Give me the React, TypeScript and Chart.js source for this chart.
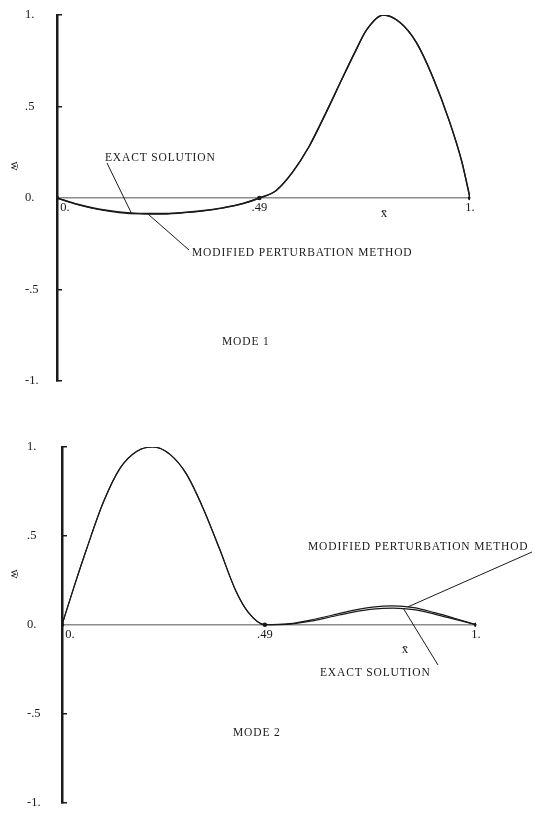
import { useEffect, useRef } from 'react';
import { Chart, registerables } from 'chart.js';

Chart.register(...registerables);

// Axis ticks and labels (typewriter style)
const xTicks = [0, 0.49, 1];
const xTickLabels = ['     0.', '.49', '1.'];
const yTicks = [-1, -0.5, 0, 0.5, 1];
const yTickLabels = ['-1.', '-.5', '0.', '.5', '1.'];

// Nodal points marked on the x axis
const nodeX = [0, 0.49, 1];
const nodeY = [0, 0, 0];

// Mode 1 deflection shape
const mode1X = [0, 0.05, 0.1, 0.15, 0.2, 0.25, 0.3, 0.35, 0.4, 0.45, 0.49, 0.53, 0.57, 0.61, 0.65, 0.69, 0.72, 0.75, 0.79, 0.83, 0.87, 0.91, 0.95, 0.98, 1.0];
const mode1Exact = [0, -0.034, -0.06, -0.076, -0.084, -0.085, -0.08, -0.07, -0.054, -0.03, 0, 0.04, 0.14, 0.28, 0.46, 0.65, 0.79, 0.92, 1.0, 0.96, 0.85, 0.66, 0.42, 0.2, 0];
const mode1Perturb = [0, -0.036, -0.062, -0.079, -0.087, -0.088, -0.082, -0.072, -0.055, -0.031, 0, 0.04, 0.14, 0.28, 0.46, 0.65, 0.79, 0.92, 1.0, 0.96, 0.85, 0.66, 0.42, 0.2, 0];

// Mode 2 deflection shape
const mode2X = [0, 0.03, 0.06, 0.1, 0.14, 0.18, 0.22, 0.26, 0.3, 0.34, 0.38, 0.42, 0.45, 0.49, 0.55, 0.6, 0.65, 0.7, 0.75, 0.8, 0.85, 0.9, 0.95, 1.0];
const mode2Exact = [0, 0.22, 0.43, 0.69, 0.88, 0.975, 1.0, 0.96, 0.85, 0.66, 0.43, 0.19, 0.07, 0, 0.004, 0.02, 0.045, 0.07, 0.088, 0.094, 0.085, 0.06, 0.03, 0];
const mode2Perturb = [0, 0.22, 0.43, 0.69, 0.88, 0.975, 1.0, 0.96, 0.85, 0.66, 0.43, 0.19, 0.07, 0, 0.006, 0.026, 0.052, 0.079, 0.099, 0.106, 0.096, 0.068, 0.035, 0];

const FONT = '"Liberation Serif", "DejaVu Serif", serif';
const INK = '#1a1a1a';

type Note = { text: string; x: number; y: number };
type Leader = { from: [number, number]; to: [number, number] };
type Layout = {
  top: number;
  height: number;
  pad: { left: number; right: number; top: number; bottom: number };
  yAxisWidth: number;
  notes: Note[];
  leaders: Leader[];
  xTitle: [number, number];
  yTitle: [number, number];
};

const pts = (xs: number[], ys: number[]) => xs.map((x, i) => ({ x, y: ys[i] }));

function annotationPlugin(layout: Layout) {
  return {
    id: 'modeNotes',
    afterDraw(chart: any) {
      const { ctx } = chart;
      const sx = chart.scales.x;
      const sy = chart.scales.y;
      ctx.save();
      ctx.fillStyle = INK;
      ctx.strokeStyle = INK;
      ctx.lineWidth = 1;
      ctx.font = `11.5px ${FONT}`;
      (ctx as any).letterSpacing = '0.85px';
      ctx.textBaseline = 'middle';
      ctx.textAlign = 'left';
      for (const n of layout.notes) ctx.fillText(n.text, n.x, n.y);
      (ctx as any).letterSpacing = '0px';
      for (const l of layout.leaders) {
        ctx.beginPath();
        ctx.moveTo(l.from[0], l.from[1]);
        ctx.lineTo(sx.getPixelForValue(l.to[0]), sy.getPixelForValue(l.to[1]));
        ctx.stroke();
      }
      ctx.font = `13px ${FONT}`;
      ctx.textAlign = 'center';
      ctx.fillText('x\u0304', layout.xTitle[0], layout.xTitle[1]);
      ctx.translate(layout.yTitle[0], layout.yTitle[1]);
      ctx.rotate(Math.PI / 2);
      ctx.fillText('w\u0304', 0, 0);
      ctx.restore();
    },
  };
}

function makeConfig(exact: number[], perturb: number[], xs: number[], layout: Layout, lineW: number): any {
  const curve = {
    borderColor: INK,
    borderWidth: lineW,
    pointRadius: 0,
    cubicInterpolationMode: 'monotone',
    fill: false,
  };
  return {
    type: 'line',
    data: {
      datasets: [
        { label: 'EXACT SOLUTION', data: pts(xs, exact), ...curve },
        { label: 'MODIFIED PERTURBATION METHOD', data: pts(xs, perturb), ...curve },
        {
          label: 'nodes',
          data: pts(nodeX, nodeY),
          showLine: false,
          pointRadius: 2.2,
          pointBackgroundColor: INK,
          pointBorderColor: INK,
          pointBorderWidth: 0,
        },
      ],
    },
    options: {
      responsive: false,
      animation: false,
      devicePixelRatio: 1,
      layout: { padding: layout.pad },
      plugins: { legend: { display: false }, tooltip: { enabled: false } },
      scales: {
        x: {
          type: 'linear',
          min: 0,
          max: 1,
          position: { y: 0 },
          afterBuildTicks: (s: any) => {
            s.ticks = xTicks.map((v) => ({ value: v }));
          },
          ticks: {
            callback: (_v: any, i: number) => xTickLabels[i],
            color: INK,
            font: { family: FONT, size: 12.5 },
            padding: 2,
            maxRotation: 0,
            autoSkip: false,
          },
          grid: { display: false, drawTicks: false },
          border: { display: true, color: '#8c8c8c', width: 1.5 },
        },
        y: {
          type: 'linear',
          min: -1,
          max: 1,
          position: 'left',
          afterBuildTicks: (s: any) => {
            s.ticks = yTicks.map((v) => ({ value: v }));
          },
          afterFit: (s: any) => {
            s.width = layout.yAxisWidth;
          },
          ticks: {
            callback: (_v: any, i: number) => yTickLabels[i],
            color: INK,
            font: { family: FONT, size: 12.5 },
            crossAlign: 'far',
            autoSkip: false,
          },
          grid: {
            display: true,
            drawOnChartArea: false,
            drawTicks: true,
            tickLength: -5,
            lineWidth: 1.5,
            color: (c: any) => (c.tick && c.tick.value === 0 ? 'rgba(0,0,0,0)' : INK),
          },
          border: { display: true, color: INK, width: 2.5 },
        },
      },
    },
    plugins: [annotationPlugin(layout)],
  };
}

const topLayout: Layout = {
  top: 0,
  height: 406,
  pad: { left: 25, right: 65, top: 15, bottom: 25 },
  yAxisWidth: 32,
  notes: [
    { text: 'EXACT SOLUTION', x: 105, y: 158 },
    { text: 'MODIFIED PERTURBATION METHOD', x: 192, y: 253 },
    { text: 'MODE 1', x: 222, y: 342 },
  ],
  leaders: [
    { from: [107, 163], to: [0.18, -0.082] },
    { from: [189, 250], to: [0.22, -0.087] },
  ],
  xTitle: [384, 214],
  yTitle: [14, 166],
};

const bottomLayout: Layout = {
  top: 406,
  height: 407,
  pad: { left: 27, right: 59, top: 41, bottom: 0 },
  yAxisWidth: 35,
  notes: [
    { text: 'MODIFIED PERTURBATION METHOD', x: 308, y: 141 },
    { text: 'EXACT SOLUTION', x: 320, y: 267 },
    { text: 'MODE 2', x: 233, y: 327 },
  ],
  leaders: [
    { from: [532, 146], to: [0.835, 0.1] },
    { from: [438, 259], to: [0.825, 0.09] },
  ],
  xTitle: [405, 244],
  yTitle: [14, 168],
};

function ModeChart({ layout, exact, perturb, xs, lineW }: { layout: Layout; exact: number[]; perturb: number[]; xs: number[]; lineW: number }) {
  const ref = useRef<HTMLCanvasElement | null>(null);
  useEffect(() => {
    if (!ref.current) return;
    const chart = new Chart(ref.current, makeConfig(exact, perturb, xs, layout, lineW));
    return () => chart.destroy();
  }, []);
  return (
    <div style={{ position: 'absolute', left: 0, top: layout.top, width: 535, height: layout.height }}>
      <canvas ref={ref} width={535} height={layout.height} style={{ display: 'block' }} />
    </div>
  );
}

export default function App() {
  return (
    <div style={{ position: 'absolute', left: 0, top: 0, width: 535, height: 813, background: '#ffffff', overflow: 'hidden' }}>
      <ModeChart layout={topLayout} exact={mode1Exact} perturb={mode1Perturb} xs={mode1X} lineW={1.4} />
      <ModeChart layout={bottomLayout} exact={mode2Exact} perturb={mode2Perturb} xs={mode2X} lineW={1.2} />
    </div>
  );
}
